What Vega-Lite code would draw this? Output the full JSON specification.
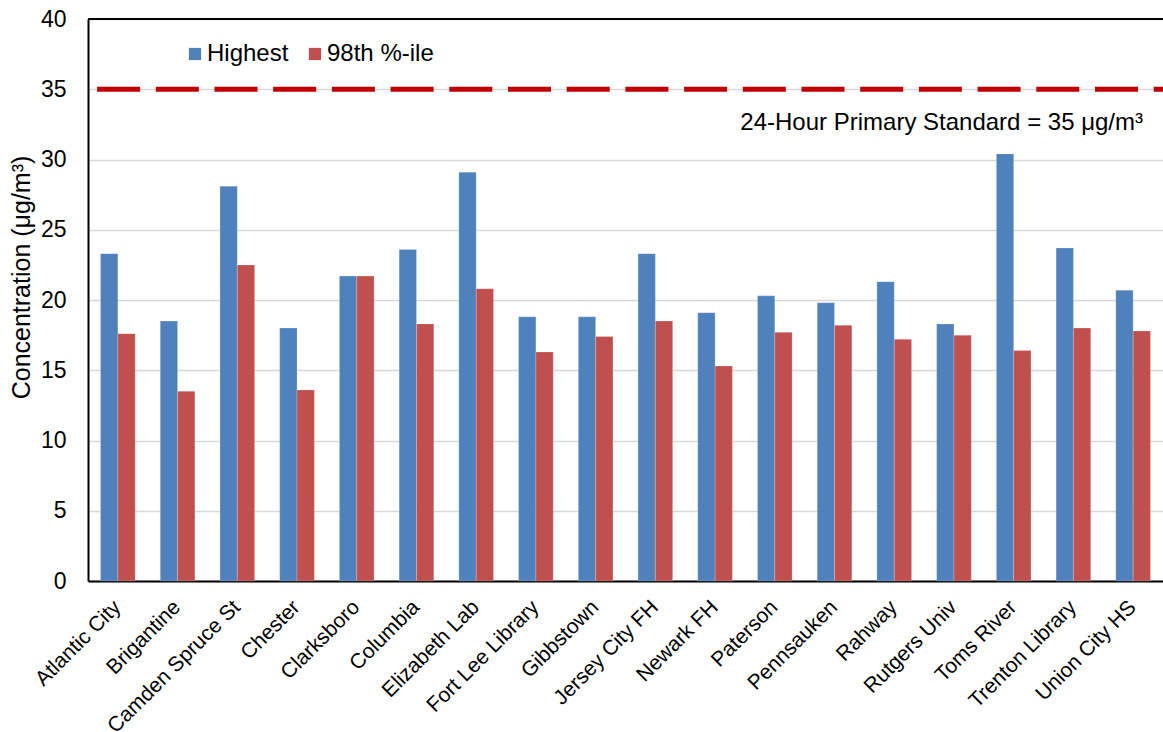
{
  "$schema": "https://vega.github.io/schema/vega-lite/v6.json",
  "width": 1075,
  "height": 562,
  "autosize": "none",
  "padding": {"left": 88, "top": 19, "right": 0, "bottom": 151},
  "background": "white",
  "config": {
    "font": "Liberation Sans",
    "view": {"stroke": null},
    "axis": {"labelFont": "Liberation Sans", "titleFont": "Liberation Sans", "labelColor": "#000", "titleColor": "#000"}
  },
  "datasets": {
    "bars": [
      {"site": "Atlantic City", "series": "Highest", "value": 23.3},
      {"site": "Atlantic City", "series": "98th %-ile", "value": 17.6},
      {"site": "Brigantine", "series": "Highest", "value": 18.5},
      {"site": "Brigantine", "series": "98th %-ile", "value": 13.5},
      {"site": "Camden Spruce St", "series": "Highest", "value": 28.1},
      {"site": "Camden Spruce St", "series": "98th %-ile", "value": 22.5},
      {"site": "Chester", "series": "Highest", "value": 18.0},
      {"site": "Chester", "series": "98th %-ile", "value": 13.6},
      {"site": "Clarksboro", "series": "Highest", "value": 21.7},
      {"site": "Clarksboro", "series": "98th %-ile", "value": 21.7},
      {"site": "Columbia", "series": "Highest", "value": 23.6},
      {"site": "Columbia", "series": "98th %-ile", "value": 18.3},
      {"site": "Elizabeth Lab", "series": "Highest", "value": 29.1},
      {"site": "Elizabeth Lab", "series": "98th %-ile", "value": 20.8},
      {"site": "Fort Lee Library", "series": "Highest", "value": 18.8},
      {"site": "Fort Lee Library", "series": "98th %-ile", "value": 16.3},
      {"site": "Gibbstown", "series": "Highest", "value": 18.8},
      {"site": "Gibbstown", "series": "98th %-ile", "value": 17.4},
      {"site": "Jersey City FH", "series": "Highest", "value": 23.3},
      {"site": "Jersey City FH", "series": "98th %-ile", "value": 18.5},
      {"site": "Newark FH", "series": "Highest", "value": 19.1},
      {"site": "Newark FH", "series": "98th %-ile", "value": 15.3},
      {"site": "Paterson", "series": "Highest", "value": 20.3},
      {"site": "Paterson", "series": "98th %-ile", "value": 17.7},
      {"site": "Pennsauken", "series": "Highest", "value": 19.8},
      {"site": "Pennsauken", "series": "98th %-ile", "value": 18.2},
      {"site": "Rahway", "series": "Highest", "value": 21.3},
      {"site": "Rahway", "series": "98th %-ile", "value": 17.2},
      {"site": "Rutgers Univ", "series": "Highest", "value": 18.3},
      {"site": "Rutgers Univ", "series": "98th %-ile", "value": 17.5},
      {"site": "Toms River", "series": "Highest", "value": 30.4},
      {"site": "Toms River", "series": "98th %-ile", "value": 16.4},
      {"site": "Trenton Library", "series": "Highest", "value": 23.7},
      {"site": "Trenton Library", "series": "98th %-ile", "value": 18.0},
      {"site": "Union City HS", "series": "Highest", "value": 20.7},
      {"site": "Union City HS", "series": "98th %-ile", "value": 17.8}
    ],
    "standard": [{"value": 35, "label": "24-Hour Primary Standard = 35 μg/m³", "labelY": 32.6}],
    "frame": [{"top": 40}]
  },
  "layer": [
    {
      "data": {"name": "bars"},
      "mark": {"type": "bar", "stroke": "white", "strokeOpacity": 0.35, "strokeWidth": 0.6},
      "encoding": {
        "x": {
          "field": "site", "type": "nominal", "sort": null,
          "scale": {"paddingInner": 0.42, "paddingOuter": 0.21},
          "axis": {
            "title": null, "labelAngle": -45, "labelFontSize": 21, "ticks": false, "labelLimit": 400,
            "labelPadding": 15, "labelOffset": -8, "domainColor": "#000", "domainWidth": 2, "grid": false
          }
        },
        "xOffset": {
          "field": "series", "type": "nominal",
          "scale": {"domain": ["Highest", "98th %-ile"], "paddingInner": 0, "paddingOuter": 0}
        },
        "y": {
          "field": "value", "type": "quantitative",
          "scale": {"domain": [0, 40], "nice": false},
          "axis": {
            "title": "Concentration (μg/m³)", "titleFontSize": 25, "titleFontWeight": "normal",
            "titleX": -67, "titleY": 258, "titleAlign": "center", "titleBaseline": "middle", "titleAngle": -90,
            "labelFontSize": 23, "labelPadding": 22, "ticks": false,
            "values": [0, 5, 10, 15, 20, 25, 30, 35, 40],
            "domainColor": "#000", "domainWidth": 2,
            "gridColor": "#d9d9d9", "gridWidth": 1.5
          }
        },
        "color": {
          "field": "series", "type": "nominal",
          "scale": {"domain": ["Highest", "98th %-ile"], "range": ["#4F81BD", "#C0504D"]},
          "legend": {
            "title": null, "orient": "none", "direction": "horizontal",
            "legendX": 95, "legendY": 23, "symbolType": "square", "symbolSize": 150,
            "symbolStrokeWidth": 0, "labelFontSize": 24, "labelOffset": 0, "columnPadding": 14,
            "labelColor": "#000", "labelFont": "Liberation Sans"
          }
        }
      }
    },
    {
      "data": {"name": "frame"},
      "mark": {"type": "rule", "color": "#000", "strokeWidth": 2},
      "encoding": {"y": {"field": "top", "type": "quantitative"}}
    },
    {
      "data": {"name": "standard"},
      "mark": {"type": "rule", "color": "#C00000", "strokeWidth": 5, "strokeDash": [43, 15.7], "strokeDashOffset": 33.7},
      "encoding": {"y": {"field": "value", "type": "quantitative"}}
    },
    {
      "data": {"name": "standard"},
      "mark": {"type": "text", "align": "right", "baseline": "middle", "fontSize": 24, "font": "Liberation Sans", "color": "#000", "dx": -20},
      "encoding": {
        "x": {"value": "width"},
        "y": {"field": "labelY", "type": "quantitative"},
        "text": {"field": "label"}
      }
    }
  ]
}
